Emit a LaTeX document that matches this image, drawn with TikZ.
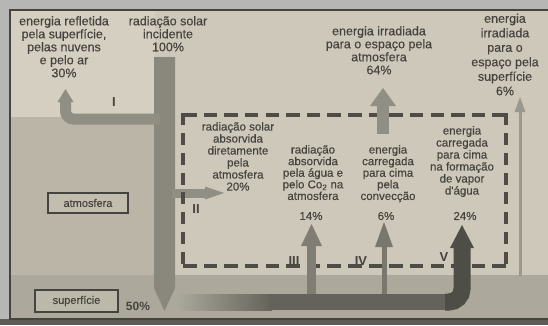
\documentclass[tikz,border=0pt]{standalone}
\usepackage{fontspec}
\setmainfont{Liberation Sans}
\newfontfamily\diagfont{Liberation Sans}[FakeBold=0.35]
\usetikzlibrary{arrows.meta}
\definecolor{margin}{RGB}{182,183,180}
\definecolor{frameln}{RGB}{70,68,62}
\definecolor{sky}{RGB}{212,207,192}
\definecolor{atmo}{RGB}{186,181,166}
\definecolor{rightbg}{RGB}{205,200,186}
\definecolor{surf}{RGB}{172,169,156}
\definecolor{colgray}{RGB}{138,136,124}
\definecolor{midgray}{RGB}{145,143,131}
\definecolor{thingray}{RGB}{155,153,141}
\definecolor{gthree}{RGB}{128,126,116}
\definecolor{gfour}{RGB}{122,120,110}
\definecolor{bandgray}{RGB}{100,98,90}
\definecolor{darkgray}{RGB}{78,77,70}
\definecolor{dashc}{RGB}{78,76,68}
\definecolor{txt}{RGB}{70,68,62}
\begin{document}
\begin{tikzpicture}[x=1pt,y=-1pt,
  toptext/.style={align=center, font=\diagfont\fontsize{12.5}{13}\selectfont, text=txt, inner sep=0pt, anchor=north},
  intext/.style={align=center, font=\diagfont\fontsize{11.5}{12}\selectfont, text=txt, inner sep=0pt, anchor=north},
  roman/.style={font=\bfseries\fontsize{13}{13}\selectfont, text=txt, inner sep=0pt},
  pct/.style={font=\diagfont\fontsize{11.5}{12}\selectfont, text=txt, inner sep=0pt},
  labelbox/.style={draw=frameln, line width=1.2pt, font=\diagfont\fontsize{11}{12}\selectfont, text=txt, inner sep=0pt}
]
\useasboundingbox (0,0) rectangle (548,325);
% backgrounds
\fill[margin] (0,0) rectangle (548,325);
\fill[rightbg] (10,10) rectangle (548,319);
\fill[sky] (10,10) rectangle (155,117);
\fill[atmo] (10,117) rectangle (155,275);
\fill[surf] (10,275) rectangle (548,318);
\fill[frameln!80!margin] (0,319) rectangle (548,325);
\draw[frameln, line width=2.2pt] (548,10) -- (10,10) -- (10,319) -- (548,319);
% main incident column
\fill[colgray] (154,57) -- (175,57) -- (175,288) -- (164.5,311) -- (154,288) -- cycle;
% arrow I
\draw[midgray, line width=11pt, rounded corners=8pt] (160,119) -- (65.5,119) -- (65.5,100);
\fill[midgray] (57.5,102) -- (73.5,102) -- (65.5,89) -- cycle;
% arrow II
\draw[midgray, line width=9pt] (172,193) -- (208,193);
\fill[midgray] (205,186.5) -- (224,193) -- (205,199.5) -- cycle;
% dashed box
\draw[dashc, line width=4pt, dash pattern=on 13.5pt off 7.13pt] (183,115) -- (506,115);
\draw[dashc, line width=4pt, dash pattern=on 13.5pt off 7.13pt] (183,266) -- (506,266);
\draw[dashc, line width=4pt, dash pattern=on 12pt off 7.86pt] (183,113) -- (183,268);
\draw[dashc, line width=4pt, dash pattern=on 12pt off 7.86pt] (506,113) -- (506,268);
% arrow 64%
\draw[midgray, line width=12pt] (383,134) -- (383,105);
\fill[midgray] (370,106) -- (396,106) -- (383,88) -- cycle;
% thin arrow 6% surface
\draw[thingray, line width=3pt] (520,276) -- (520,110);
\fill[thingray] (514.5,112) -- (525.5,112) -- (520,97) -- cycle;
% arrows III and IV
\draw[gthree, line width=9pt] (311,300) -- (311,244);
\fill[gthree] (301,246) -- (322,246) -- (311.5,224) -- cycle;
\draw[gfour, line width=5pt] (384,300) -- (384,245);
\fill[gfour] (375,247) -- (393,247) -- (384,222) -- cycle;
% bottom band and arrow V
\shade[left color=surf, right color=bandgray] (176,294) rectangle (272,310);
\draw[bandgray, line width=16pt] (270,302) -- (446,302);
\draw[darkgray, line width=17pt, rounded corners=13pt] (445,302) -- (462,302) -- (462,245);
\fill[darkgray] (450,248) -- (474,248) -- (462,225) -- cycle;
% roman numerals
\node[roman] (rI) at (114,102) {I};
\node[roman] (rII) at (196,209) {II};
\node[roman] (rIII) at (294,261) {III};
\node[roman] (rIV) at (361,261) {IV};
\node[roman] (rV) at (444,257) {V};
% top texts
\node[toptext] (trefl) at (64,16) {energia refletida\\pela superfície,\\pelas nuvens\\e pelo ar\\30\%};
\node[toptext] (tinc) at (168,16) {radiação solar\\incidente\\100\%};
\node[toptext] (tatm) at (379,26) {energia irradiada\\para o espaço pela\\atmosfera\\64\%};
\node[toptext, font=\diagfont\fontsize{12.5}{14.5}\selectfont] (tsup) at (505,13.5) {energia\\irradiada\\para o\\espaço pela\\superfície\\6\%};
% inner texts
\node[intext] (tdir) at (238,122) {radiação solar\\absorvida\\diretamente\\pela\\atmosfera\\20\%};
\node[intext, font=\diagfont\fontsize{11.5}{11.6}\selectfont] (tagua) at (313,145) {radiação\\absorvida\\pela água e\\pelo Co\textsubscript{2} na\\atmosfera};
\node[intext, font=\diagfont\fontsize{11.5}{11.6}\selectfont] (tconv) at (388,145) {energia\\carregada\\para cima\\pela\\convecção};
\node[intext] (tvap) at (462,126) {energia\\carregada\\para cima\\na formação\\de vapor\\d'água};
\node[pct] (p14) at (311,216) {14\%};
\node[pct] (p6) at (386,216) {6\%};
\node[pct] (p24) at (465,216) {24\%};
% label boxes
\node[labelbox, fill=atmo!70!sky, minimum width=80pt, minimum height=20pt] (batm) at (88,203) {atmosfera};
\node[labelbox, fill=surf!60!sky, minimum width=83pt, minimum height=22pt] (bsup) at (76.5,301) {superfície};
\node[font=\bfseries\fontsize{12}{12}\selectfont, text=txt, inner sep=0pt] (p50) at (138,306) {50\%};
\end{tikzpicture}
\end{document}
